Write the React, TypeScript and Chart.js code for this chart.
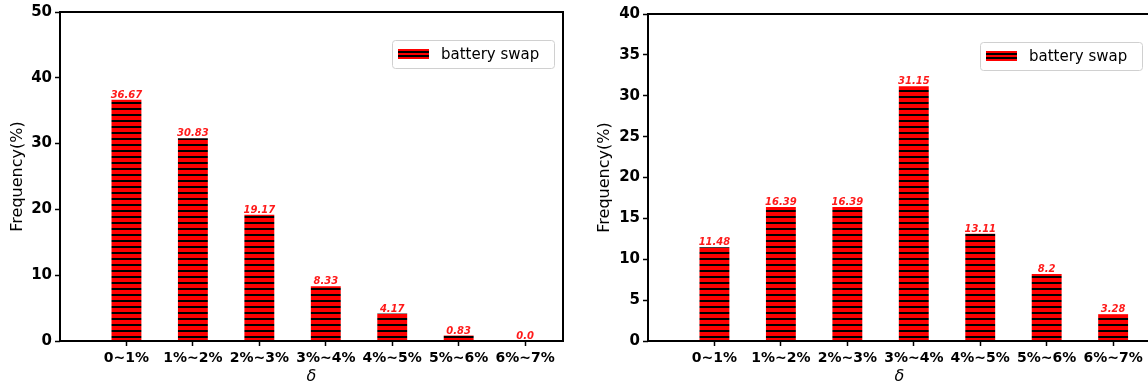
import React, { useEffect, useRef } from 'react';
import { Chart, registerables } from 'chart.js';

Chart.register(...registerables);

const categories = ['0~1%', '1%~2%', '2%~3%', '3%~4%', '4%~5%', '5%~6%', '6%~7%'];
const leftValues = [36.67, 30.83, 19.17, 8.33, 4.17, 0.83, 0.0];
const leftValueLabels = ['36.67', '30.83', '19.17', '8.33', '4.17', '0.83', '0.0'];
const rightValues = [11.48, 16.39, 16.39, 31.15, 13.11, 8.2, 3.28];
const rightValueLabels = ['11.48', '16.39', '16.39', '31.15', '13.11', '8.2', '3.28'];
const leftYTicks = [0, 10, 20, 30, 40, 50];
const rightYTicks = [0, 5, 10, 15, 20, 25, 30, 35, 40];
const seriesName = 'battery swap';
const yTitle = 'Frequency(%)';
const xTitle = 'δ';

const FONT = "'DejaVu Sans', sans-serif";

function makePattern(ctx: CanvasRenderingContext2D) {
  const c = document.createElement('canvas');
  c.width = 6;
  c.height = 6;
  const g = c.getContext('2d')!;
  g.fillStyle = '#ff0000';
  g.fillRect(0, 0, 6, 6);
  g.fillStyle = '#000000';
  g.fillRect(0, 0, 6, 2);
  return ctx.createPattern(c, 'repeat')!;
}

const framePlugin = {
  id: 'frame',
  afterDraw(chart: any) {
    const { ctx, chartArea: a } = chart;
    ctx.save();
    ctx.strokeStyle = '#000';
    ctx.lineWidth = 2;
    ctx.strokeRect(a.left, a.top, a.right - a.left, a.bottom - a.top);
    ctx.restore();
  },
};

function labelPlugin(labels: string[]) {
  return {
    id: 'valueLabels',
    afterDatasetsDraw(chart: any) {
      const { ctx } = chart;
      const meta = chart.getDatasetMeta(0);
      ctx.save();
      ctx.fillStyle = '#ff1a1a';
      ctx.font = `italic bold 10px ${FONT}`;
      ctx.textAlign = 'center';
      ctx.textBaseline = 'alphabetic';
      meta.data.forEach((bar: any, i: number) => {
        ctx.fillText(labels[i], bar.x, bar.y - 2);
      });
      ctx.restore();
    },
  };
}

const legendPlugin = {
  id: 'customLegend',
  afterDraw(chart: any) {
    const { ctx, chartArea: a } = chart;
    const w = 162;
    const h = 28;
    const x = a.right - 9 - w;
    const y = a.top + 28;
    ctx.save();
    ctx.fillStyle = 'rgba(255,255,255,0.9)';
    ctx.strokeStyle = '#d0d0d0';
    ctx.lineWidth = 1;
    ctx.beginPath();
    (ctx as any).roundRect(x + 0.5, y + 0.5, w, h, 3);
    ctx.fill();
    ctx.stroke();
    const px = x + 6;
    const py = y + 9;
    ctx.fillStyle = '#ff0000';
    ctx.fillRect(px, py, 31, 10);
    ctx.fillStyle = '#000';
    ctx.fillRect(px, py + 2, 31, 2);
    ctx.fillRect(px, py + 6, 31, 2);
    ctx.fillStyle = '#000';
    ctx.font = `15px ${FONT}`;
    ctx.textAlign = 'left';
    ctx.textBaseline = 'middle';
    ctx.fillText(seriesName, x + 49, y + h / 2 + 1);
    ctx.restore();
  },
};

type Spec = {
  values: number[];
  labels: string[];
  yTicks: number[];
  padTop: number;
  padRight: number;
  yWidth: number;
  titlePad: number;
};

function buildConfig(ctx: CanvasRenderingContext2D, spec: Spec): any {
  const yMax = spec.yTicks[spec.yTicks.length - 1];
  return {
    type: 'bar',
    data: {
      datasets: [
        {
          label: seriesName,
          data: spec.values.map((v, i) => ({ x: i, y: v })),
          backgroundColor: makePattern(ctx),
          borderWidth: 0,
          barPercentage: 0.45,
          categoryPercentage: 1,
        },
      ],
    },
    options: {
      animation: false,
      responsive: false,
      layout: { padding: { left: 0, right: spec.padRight, top: spec.padTop, bottom: 0 } },
      plugins: { legend: { display: false }, tooltip: { enabled: false } },
      scales: {
        x: {
          type: 'linear',
          min: -1,
          max: 6.57,
          offset: false,
          afterBuildTicks: (s: any) => {
            s.ticks = categories.map((_, i) => ({ value: i }));
          },
          afterFit: (s: any) => {
            s.height = 46;
          },
          grid: {
            offset: false,
            drawOnChartArea: false,
            drawTicks: true,
            tickLength: 5,
            tickColor: '#000',
            tickWidth: 1.5,
          },
          border: { display: false },
          ticks: {
            color: '#000',
            font: { family: FONT, size: 14, weight: 'bold' },
            padding: 4,
            maxRotation: 0,
            autoSkip: false,
            callback: (v: any) => categories[v] ?? '',
          },
          title: {
            display: true,
            text: xTitle,
            color: '#000',
            font: { family: FONT, size: 16, style: 'italic' },
            padding: { top: 0, bottom: 1 },
          },
        },
        y: {
          min: 0,
          max: yMax,
          afterBuildTicks: (s: any) => {
            s.ticks = spec.yTicks.map((v) => ({ value: v }));
          },
          afterFit: (s: any) => {
            s.width = spec.yWidth;
          },
          grid: {
            drawOnChartArea: false,
            drawTicks: true,
            tickLength: 5,
            tickColor: '#000',
            tickWidth: 1.5,
          },
          border: { display: false },
          ticks: {
            color: '#000',
            font: { family: FONT, size: 15, weight: 'bold' },
            padding: 3,
          },
          title: {
            display: true,
            text: yTitle,
            color: '#000',
            font: { family: FONT, size: 16 },
            padding: { top: spec.titlePad, bottom: 0 },
          },
        },
      },
    },
    plugins: [framePlugin, labelPlugin(spec.labels), legendPlugin],
  };
}

function BarPanel({ spec, width, left }: { spec: Spec; width: number; left: number }) {
  const ref = useRef<HTMLCanvasElement>(null);
  useEffect(() => {
    const canvas = ref.current!;
    const ctx = canvas.getContext('2d')!;
    const chart = new Chart(ctx, buildConfig(ctx, spec));
    return () => chart.destroy();
  }, []);
  return (
    <canvas
      ref={ref}
      width={width}
      height={387}
      style={{ position: 'absolute', left, top: 0, width, height: 387 }}
    />
  );
}

export default function App() {
  const leftSpec: Spec = {
    values: leftValues,
    labels: leftValueLabels,
    yTicks: leftYTicks,
    padTop: 12,
    padRight: 11,
    yWidth: 60,
    titlePad: 8,
  };
  const rightSpec: Spec = {
    values: rightValues,
    labels: rightValueLabels,
    yTicks: rightYTicks,
    padTop: 14,
    padRight: 23,
    yWidth: 74,
    titlePad: 21,
  };
  return (
    <div
      style={{
        position: 'fixed',
        left: 0,
        top: 0,
        width: 1148,
        height: 387,
        overflow: 'hidden',
        background: '#fff',
      }}
    >
      <BarPanel spec={leftSpec} width={574} left={0} />
      <BarPanel spec={rightSpec} width={600} left={574} />
    </div>
  );
}
